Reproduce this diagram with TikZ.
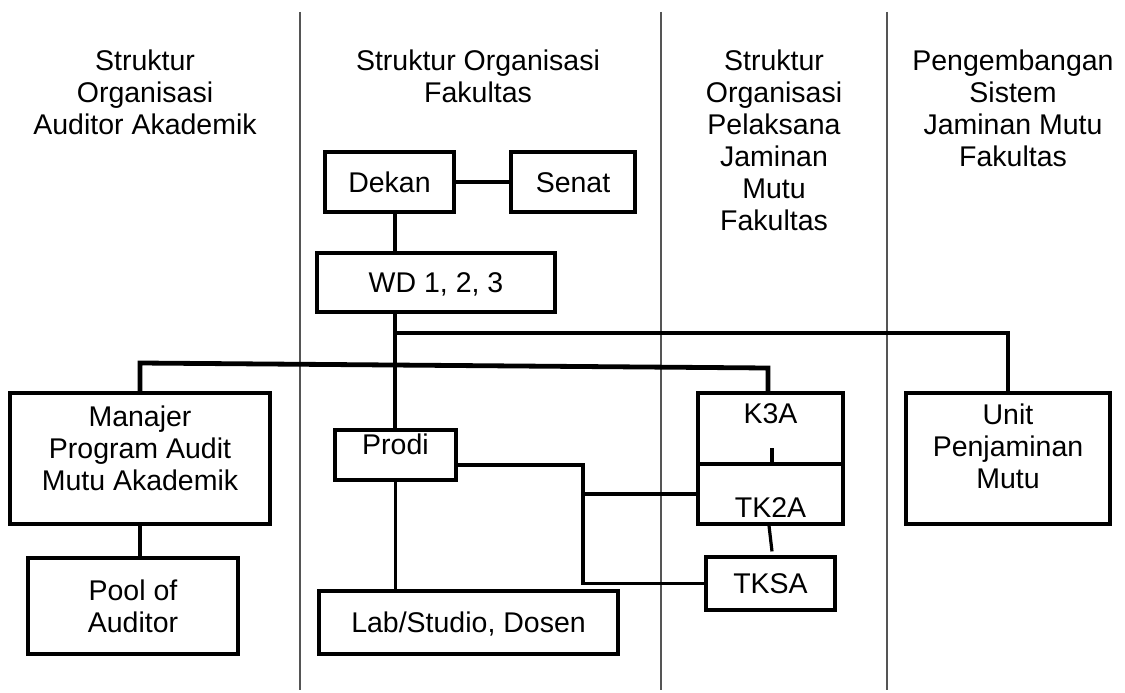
\documentclass[tikz,border=0pt]{standalone}
\usepackage{fontspec}
\setmainfont{Liberation Sans}
\newcommand{\diagfont}{\fontsize{28.5}{32}\selectfont}
\definecolor{sepgray}{RGB}{85,85,85}
\begin{document}
\begin{tikzpicture}[x=1pt,y=-1pt,
  every node/.style={font=\diagfont},
  box/.style={draw=black, line width=3.2pt, inner sep=0pt, align=center},
  one/.style={text height=20.4pt, text depth=0pt},
  lbl/.style={inner sep=0pt, align=center},
  link/.style={line width=3.2pt},
  heavy/.style={line width=4.8pt},
  sep/.style={line width=1.6pt, draw=sepgray}]
\fill[white] (0,0) rectangle (1125,693);
\useasboundingbox (0,0) rectangle (1125,693);

% column separators
\draw[sep] (300,12) -- (300,690);
\draw[sep] (661,12) -- (661,690);
\draw[sep] (887,12) -- (887,690);

% column titles
\node[lbl] (t1) at (145,92) {Struktur\\Organisasi\\Auditor Akademik};
\node[lbl] (t2) at (478,76) {Struktur Organisasi\\Fakultas};
\node[lbl] (t3) at (774,140) {Struktur\\Organisasi\\Pelaksana\\Jaminan\\Mutu\\Fakultas};
\node[lbl] (t4) at (1013,108) {Pengembangan\\Sistem\\Jaminan Mutu\\Fakultas};

% boxes
\node[box,one,minimum width=129pt,minimum height=60pt] (dekan) at (389.5,182) {Dekan};
\node[box,one,minimum width=124pt,minimum height=60pt] (senat) at (573,182) {Senat};
\node[box,one,minimum width=238pt,minimum height=59pt] (wd) at (436,282.5) {WD 1, 2, 3};
\node[box,minimum width=260pt,minimum height=131pt] (manajer) at (140,458.5) {};
\node[lbl] (manajertxt) at (140,448.5) {Manajer\\Program Audit\\Mutu Akademik};
\node[box,minimum width=210pt,minimum height=96pt] (pool) at (133,606) {Pool of\\Auditor};
\node[box,minimum width=121pt,minimum height=50pt] (prodi) at (395.5,455) {};
\node[lbl,anchor=base] (proditxt) at (395.5,454) {Prodi};
\node[box,one,minimum width=299pt,minimum height=63pt] (lab) at (468.5,622.5) {Lab/Studio, Dosen};
\node[box,minimum width=145pt,minimum height=71pt] (k3a) at (770.5,428.5) {};
\node[lbl,anchor=base] (k3atxt) at (770.5,423.5) {K3A};
\node[box,minimum width=145pt,minimum height=60pt] (tk2a) at (770.5,494) {};
\node[lbl,anchor=base] (tk2atxt) at (770.5,517) {TK2A};
\node[box,one,minimum width=129pt,minimum height=53pt] (tksa) at (770.5,583.5) {TKSA};
\node[box,minimum width=204pt,minimum height=131pt] (unit) at (1008,458.5) {};
\node[lbl] (unittxt) at (1008,446) {Unit\\Penjaminan\\Mutu};

% connectors
\coordinate (xa) at (395,0);
\draw[line width=4.4pt] (dekan.east) -- (senat.west);
\draw[link] (dekan.south -| xa) -- (wd.north -| xa);
\draw[link] (wd.south -| xa) -- (prodi.north -| xa);
\coordinate (j1) at (395,333);
\draw[link] (j1) -| (unit.north);
\coordinate (sl) at (140,363);
\coordinate (sr) at (768,368);
\draw[heavy] (manajer.north) -- (sl) -- (sr) -- (k3a.north -| sr);
\draw[link] (manajer.south) -- (pool.north -| manajer.south);
\draw[link] (prodi.south) -- (lab.north -| prodi.south);
\coordinate (c1) at (583,465);
\draw[link] (prodi.east |- c1) -- (c1) |- (tksa.west);
\draw[link] (c1 |- tk2a.west) -- (tk2a.west);
\coordinate (ks) at (772,448);
\draw[link] (ks) -- (ks |- tk2a.north);
\draw[link] ([xshift=-1.5pt]tk2a.south) -- ([xshift=1.5pt,yshift=4pt]tksa.north);
\end{tikzpicture}
\end{document}
